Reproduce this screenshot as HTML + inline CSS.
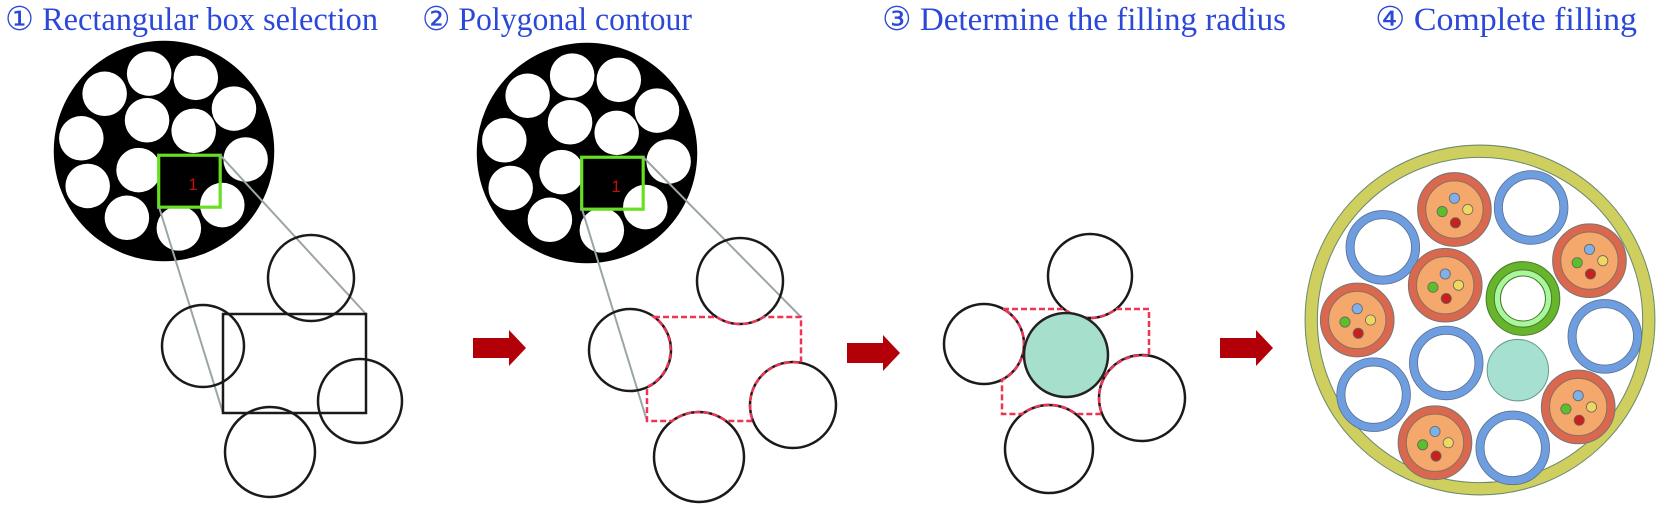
<!DOCTYPE html>
<html><head><meta charset="utf-8"><style>
html,body{margin:0;padding:0;background:#fff;}
svg{display:block;}
text{font-family:"Liberation Serif",serif;fill:#2b48d8;font-size:33px;}
</style></head><body>
<svg width="1656" height="511" viewBox="0 0 1656 511" xmlns="http://www.w3.org/2000/svg">
<defs>
<g id="wc">
 <circle cx="155" cy="144" r="104" fill="#000"/>
 <g fill="#fff">
  <circle cx="99" cy="90" r="21"/><circle cx="141" cy="71" r="21"/><circle cx="185" cy="75" r="21"/>
  <circle cx="221" cy="104" r="21"/><circle cx="77" cy="132" r="21"/><circle cx="139" cy="115" r="21"/>
  <circle cx="183" cy="125" r="21"/><circle cx="232" cy="152" r="21"/><circle cx="131" cy="162" r="21"/>
  <circle cx="83" cy="177" r="21"/><circle cx="120" cy="207" r="21"/><circle cx="169" cy="217" r="21"/>
  <circle cx="210" cy="195" r="21"/>
 </g>
 <path d="M151 149 H207 V169 A21 21 0 0 0 190 182 A21 21 0 0 0 187 195 H151 Z" fill="#000"/>
 <rect x="150" y="148" width="58" height="49" fill="none" stroke="#66e020" stroke-width="3"/>
 <text x="178" y="181" style="font-family:'Liberation Sans',sans-serif;font-size:16px;fill:#c01010">1</text>
</g>
<g id="cab">
 <circle r="36" fill="#d9684e" stroke="#777" stroke-width="1"/>
 <circle r="28" fill="#f5a86c" stroke="#8a7060" stroke-width="1"/>
 <circle cx="0" cy="-11" r="5" fill="#7fb0e8" stroke="#666" stroke-width="0.8"/>
 <circle cx="-12" cy="2" r="5" fill="#5cbf2a" stroke="#666" stroke-width="0.8"/>
 <circle cx="13" cy="0" r="5" fill="#f0d860" stroke="#666" stroke-width="0.8"/>
 <circle cx="1" cy="13" r="5" fill="#c8201a" stroke="#666" stroke-width="0.8"/>
</g>
<g id="br">
 <circle r="32" fill="none" stroke="#6e9ee0" stroke-width="8"/>
 <circle r="36" fill="none" stroke="#5a7090" stroke-width="0.8"/>
 <circle r="28" fill="none" stroke="#5a7090" stroke-width="0.8"/>
</g>
</defs>

<text x="5" y="30" textLength="373" lengthAdjust="spacingAndGlyphs">① Rectangular box selection</text>
<text x="422" y="30" textLength="270" lengthAdjust="spacingAndGlyphs">② Polygonal contour</text>
<text x="882" y="30" textLength="404" lengthAdjust="spacingAndGlyphs">③ Determine the filling radius</text>
<text x="1375" y="30" textLength="262" lengthAdjust="spacingAndGlyphs">④ Complete filling</text>

<!-- Panel 1 -->
<use href="#wc" transform="translate(164,151) scale(1.06) translate(-155,-144)"/>
<g stroke="#9aa6a6" stroke-width="2">
 <line x1="159" y1="207" x2="223" y2="413"/>
 <line x1="220" y1="155" x2="366" y2="314"/>
</g>
<g fill="none" stroke="#1a1a1a" stroke-width="2.5">
 <circle cx="311" cy="278" r="43"/>
 <circle cx="203" cy="346" r="41"/>
 <circle cx="360" cy="401" r="42"/>
 <circle cx="270" cy="452" r="45"/>
 <rect x="223" y="314" width="143" height="99"/>
</g>

<!-- Panel 2 -->
<use href="#wc" transform="translate(587,153) scale(1.06) translate(-155,-144)"/>
<g stroke="#9aa6a6" stroke-width="2">
 <line x1="582" y1="209" x2="647" y2="421"/>
 <line x1="643" y1="157" x2="801" y2="317"/>
</g>
<g fill="none" stroke="#1a1a1a" stroke-width="2.5">
 <circle cx="740" cy="281" r="43"/>
 <circle cx="630" cy="350" r="41"/>
 <circle cx="793" cy="405" r="43"/>
 <circle cx="699" cy="457" r="45"/>
</g>
<path d="M654 317 H716.5 A43 43 0 0 0 763.5 317 H801 V363 A43 43 0 0 0 753 421 H726 A45 45 0 0 0 672 421 H647 V387 A41 41 0 0 0 654 317 Z" fill="none" stroke="#ee3355" stroke-width="2.5" stroke-dasharray="6 3"/>

<!-- Panel 3 -->
<g fill="none" stroke="#1a1a1a" stroke-width="2.5">
 <circle cx="1090" cy="276" r="42"/>
 <circle cx="984" cy="344" r="40"/>
 <circle cx="1142" cy="398" r="43"/>
 <circle cx="1049" cy="449" r="44"/>
</g>
<path d="M1003 309 H1064 A42 42 0 0 0 1116 309 H1149 V356 A43 43 0 0 0 1102 414 H1076 A44 44 0 0 0 1022 414 H1002 V380 A40 40 0 0 0 1003 309 Z" fill="none" stroke="#ee3355" stroke-width="2.5" stroke-dasharray="6 3"/>
<circle cx="1066" cy="355" r="42" fill="#a6dfcc" stroke="#222" stroke-width="2.5"/>

<!-- Arrows -->
<g fill="#b30008">
 <path d="M473 338 H509 V330 L526 348 L509 366 V358 H473 Z"/>
 <path d="M847 343 H883 V335 L900 353 L883 371 V363 H847 Z"/>
 <path d="M1220 338 H1256 V330 L1273 348 L1256 366 V358 H1220 Z"/>
</g>

<!-- Panel 4 -->
<g transform="translate(1480,320) scale(1.023) translate(-1477,-303)">
<circle cx="1477" cy="303" r="165" fill="#fff" stroke="#cfcf60" stroke-width="12"/>
<circle cx="1477" cy="303" r="171" fill="none" stroke="#6a8a70" stroke-width="1"/>
<circle cx="1477" cy="303" r="159" fill="none" stroke="#6a8a70" stroke-width="1"/>

<use href="#br" x="1527" y="193"/>
<use href="#br" x="1382" y="232"/>
<use href="#br" x="1444" y="345"/>
<use href="#br" x="1373" y="376"/>
<use href="#br" x="1509" y="428"/>
<use href="#br" x="1599" y="319"/>

<use href="#cab" x="1452" y="195"/>
<use href="#cab" x="1443" y="269"/>
<use href="#cab" x="1357" y="303"/>
<use href="#cab" x="1433" y="423"/>
<use href="#cab" x="1584" y="245"/>
<use href="#cab" x="1573" y="388"/>

<circle cx="1519" cy="282" r="36" fill="#66b52a" stroke="#4a7a30" stroke-width="1"/>
<circle cx="1519" cy="282" r="28" fill="#a8f79a" stroke="#4a7a30" stroke-width="1"/>
<circle cx="1519" cy="282" r="22" fill="#fff" stroke="#4a7a30" stroke-width="1"/>

<circle cx="1514" cy="352" r="30" fill="#a6e0d0" stroke="#6a9a90" stroke-width="1"/>
</g>
</svg>
</body></html>
